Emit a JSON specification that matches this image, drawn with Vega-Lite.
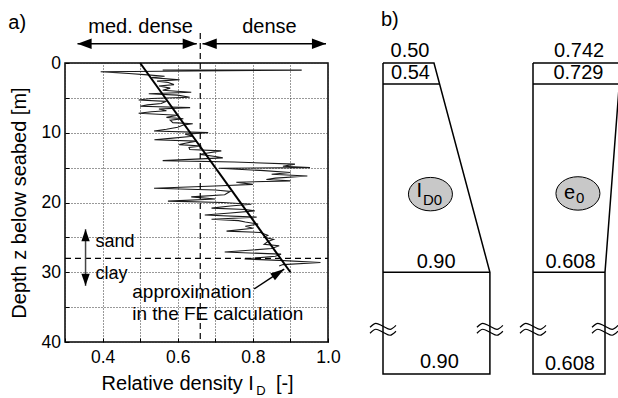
{
  "$schema": "https://vega.github.io/schema/vega-lite/v6.json",
  "padding": {"left": 7, "top": 9, "right": 0, "bottom": 0},
  "autosize": {"type": "pad"},
  "bounds": "flush",
  "spacing": 55,
  "config": {"font": "Liberation Sans", "view": {"stroke": null}},
  "hconcat": [
    {
      "width": 263,
      "height": 279,
      "view": {"stroke": "black", "strokeWidth": 1.5},
      "encoding": {
        "x": {"field": "v", "type": "quantitative",
          "scale": {"domain": [0.3, 1.0], "nice": false, "zero": false},
          "axis": {"values": [0.3, 0.4, 0.5, 0.6, 0.7, 0.8, 0.9, 1.0],
            "labelExpr": "(datum.value == 0.4 || datum.value == 0.6 || datum.value == 0.8 || datum.value == 1) ? format(datum.value, '.1f') : ''",
            "title": null, "domain": false, "tickSize": -4, "tickColor": "black", "labelColor": "black",
            "labelFontSize": 17.5, "labelPadding": 10, "labelFlush": false, "labelOverlap": false,
            "grid": true, "gridDash": [1, 2], "gridColor": "#333", "gridOpacity": 1}},
        "y": {"field": "d", "type": "quantitative",
          "scale": {"domain": [0, 40], "reverse": true, "nice": false, "zero": false},
          "axis": {"values": [0, 5, 10, 15, 20, 25, 30, 35, 40],
            "labelExpr": "datum.value % 10 == 0 ? datum.label : ''",
            "title": "Depth z below seabed [m]", "titleFontSize": 20, "titleFontWeight": "normal", "titleColor": "black", "titlePadding": 12,
            "domain": false, "tickSize": -4, "tickColor": "black", "labelColor": "black",
            "labelFontSize": 17.5, "labelPadding": 8.5, "labelFlush": false, "labelOverlap": false,
            "grid": true, "gridDash": [1, 2], "gridColor": "#333", "gridOpacity": 1}}
      },
      "layer": [
        {
          "data": {"values": [
            {"d": 1.0, "v": 0.56}, {"d": 1.02, "v": 0.93}, {"d": 1.25, "v": 0.395}, {"d": 1.5, "v": 0.47},
            {"d": 1.7, "v": 0.52}, {"d": 1.9, "v": 0.565}, {"d": 2.1, "v": 0.53}, {"d": 2.4, "v": 0.605},
            {"d": 2.6, "v": 0.545}, {"d": 2.8, "v": 0.575}, {"d": 3.1, "v": 0.59}, {"d": 3.3, "v": 0.55},
            {"d": 3.6, "v": 0.58}, {"d": 3.9, "v": 0.56}, {"d": 4.2, "v": 0.636}, {"d": 4.4, "v": 0.523},
            {"d": 4.6, "v": 0.6}, {"d": 4.9, "v": 0.632}, {"d": 5.1, "v": 0.53}, {"d": 5.3, "v": 0.496},
            {"d": 5.5, "v": 0.57}, {"d": 5.8, "v": 0.556}, {"d": 6.0, "v": 0.52}, {"d": 6.2, "v": 0.5},
            {"d": 6.4, "v": 0.633}, {"d": 6.6, "v": 0.55}, {"d": 6.85, "v": 0.57}, {"d": 7.0, "v": 0.53},
            {"d": 7.2, "v": 0.496}, {"d": 7.5, "v": 0.6}, {"d": 7.8, "v": 0.57}, {"d": 8.0, "v": 0.615},
            {"d": 8.2, "v": 0.58}, {"d": 8.55, "v": 0.587}, {"d": 8.7, "v": 0.64}, {"d": 8.9, "v": 0.615},
            {"d": 9.2, "v": 0.6}, {"d": 9.5, "v": 0.57}, {"d": 9.74, "v": 0.537}, {"d": 9.98, "v": 0.681},
            {"d": 10.2, "v": 0.62}, {"d": 10.5, "v": 0.64}, {"d": 10.8, "v": 0.58}, {"d": 11.0, "v": 0.538},
            {"d": 11.2, "v": 0.65}, {"d": 11.5, "v": 0.62}, {"d": 11.7, "v": 0.604}, {"d": 11.9, "v": 0.663},
            {"d": 12.1, "v": 0.63}, {"d": 12.4, "v": 0.632}, {"d": 12.6, "v": 0.716}, {"d": 12.9, "v": 0.68},
            {"d": 13.1, "v": 0.66}, {"d": 13.4, "v": 0.7}, {"d": 13.6, "v": 0.72}, {"d": 14.0, "v": 0.56},
            {"d": 14.2, "v": 0.75}, {"d": 14.5, "v": 0.912}, {"d": 14.8, "v": 0.88}, {"d": 15.0, "v": 0.952},
            {"d": 15.1, "v": 0.71}, {"d": 15.4, "v": 0.82}, {"d": 15.7, "v": 0.9}, {"d": 15.95, "v": 0.85},
            {"d": 16.2, "v": 0.945}, {"d": 16.5, "v": 0.86}, {"d": 16.7, "v": 0.836}, {"d": 16.9, "v": 0.9},
            {"d": 17.1, "v": 0.756}, {"d": 17.4, "v": 0.8}, {"d": 17.6, "v": 0.716}, {"d": 17.96, "v": 0.537},
            {"d": 18.2, "v": 0.7}, {"d": 18.4, "v": 0.74}, {"d": 18.9, "v": 0.725}, {"d": 19.2, "v": 0.636},
            {"d": 19.5, "v": 0.7}, {"d": 19.8, "v": 0.574}, {"d": 20.0, "v": 0.72}, {"d": 20.25, "v": 0.796},
            {"d": 20.5, "v": 0.74}, {"d": 20.8, "v": 0.69}, {"d": 21.0, "v": 0.78}, {"d": 21.2, "v": 0.805},
            {"d": 21.5, "v": 0.74}, {"d": 21.8, "v": 0.672}, {"d": 22.1, "v": 0.81}, {"d": 22.4, "v": 0.69},
            {"d": 22.6, "v": 0.762}, {"d": 22.8, "v": 0.78}, {"d": 23.1, "v": 0.814}, {"d": 23.4, "v": 0.78},
            {"d": 23.7, "v": 0.8}, {"d": 24.1, "v": 0.73}, {"d": 24.3, "v": 0.82}, {"d": 24.7, "v": 0.84},
            {"d": 25.0, "v": 0.83}, {"d": 25.3, "v": 0.855}, {"d": 25.6, "v": 0.84}, {"d": 26.0, "v": 0.83},
            {"d": 26.2, "v": 0.87}, {"d": 26.6, "v": 0.85}, {"d": 27.1, "v": 0.725}, {"d": 27.4, "v": 0.875},
            {"d": 27.7, "v": 0.86}, {"d": 28.1, "v": 0.778}, {"d": 28.3, "v": 0.87}, {"d": 28.6, "v": 0.98},
            {"d": 28.9, "v": 0.88}, {"d": 29.1, "v": 0.87}
          ]},
          "mark": {"type": "line", "color": "#1a1a1a", "strokeWidth": 1.1},
          "encoding": {"order": {"field": "d", "type": "quantitative"}}
        },
        {
          "data": {"values": [{"v": 0.5, "d": 0}, {"v": 0.9, "d": 30}]},
          "mark": {"type": "line", "color": "black", "strokeWidth": 2}
        },
        {
          "data": {"values": [{"v": 0.66, "d": -4.3, "d2": 40}]},
          "mark": {"type": "rule", "color": "black", "strokeWidth": 1.2, "strokeDash": [6, 4]},
          "encoding": {"y2": {"field": "d2"}}
        },
        {
          "data": {"values": [{"v": 0.3, "v2": 1.0, "d": 28}]},
          "mark": {"type": "rule", "color": "black", "strokeWidth": 1.2, "strokeDash": [6, 4]},
          "encoding": {"x2": {"field": "v2"}}
        },
        {
          "data": {"values": [{"v": 0.3333, "v2": 0.6507, "d": -2.77}, {"v": 0.666, "v2": 0.9947, "d": -2.77}]},
          "mark": {"type": "rule", "color": "black", "strokeWidth": 1.5},
          "encoding": {"x2": {"field": "v2"}}
        },
        {
          "data": {"values": [{"v": 0.352, "d": -2.77}, {"v": 0.685, "d": -2.77}]},
          "mark": {"type": "point", "shape": "M-1,0L1,-0.75L1,0.75Z", "size": 200, "filled": true, "color": "black", "opacity": 1}
        },
        {
          "data": {"values": [{"v": 0.632, "d": -2.77}, {"v": 0.976, "d": -2.77}]},
          "mark": {"type": "point", "shape": "M1,0L-1,-0.75L-1,0.75Z", "size": 200, "filled": true, "color": "black", "opacity": 1}
        },
        {
          "data": {"values": [{"v": 0.3547, "d": 23.83, "d2": 31.95}]},
          "mark": {"type": "rule", "color": "#444", "strokeWidth": 1.5},
          "encoding": {"y2": {"field": "d2"}}
        },
        {
          "data": {"values": [{"v": 0.3547, "d": 24.69}]},
          "mark": {"type": "point", "shape": "M0,-1L0.7,1L-0.7,1Z", "size": 144, "filled": true, "color": "black", "opacity": 1}
        },
        {
          "data": {"values": [{"v": 0.3547, "d": 31.09}]},
          "mark": {"type": "point", "shape": "M0,1L0.7,-1L-0.7,-1Z", "size": 144, "filled": true, "color": "black", "opacity": 1}
        },
        {
          "data": {"values": [{"v": 0.8035, "d": 32.39, "v2": 0.8835, "d2": 29.56}]},
          "mark": {"type": "rule", "color": "black", "strokeWidth": 1.5},
          "encoding": {"x2": {"field": "v2"}, "y2": {"field": "d2"}}
        },
        {
          "data": {"values": [{"v": 0.868, "d": 30.1}]},
          "mark": {"type": "point", "shape": "M0,-1L0.6,1L-0.6,1Z", "size": 196, "angle": 56, "filled": true, "color": "black", "opacity": 1}
        },
        {
          "data": {"values": [{"v": 0.501, "d": -5.2, "t": "med. dense"}, {"v": 0.844, "d": -5.2, "t": "dense"}]},
          "mark": {"type": "text", "fontSize": 20, "align": "center", "baseline": "middle", "color": "black"},
          "encoding": {"text": {"field": "t"}}
        },
        {
          "data": {"values": [{"v": 0.149, "d": -5.7, "t": "a)"}]},
          "mark": {"type": "text", "fontSize": 20, "align": "left", "baseline": "middle", "color": "black"},
          "encoding": {"text": {"field": "t"}}
        },
        {
          "data": {"values": [{"v": 0.381, "d": 25.7, "t": "sand"}, {"v": 0.381, "d": 30.2, "t": "clay"}]},
          "mark": {"type": "text", "fontSize": 18, "align": "left", "baseline": "middle", "color": "black"},
          "encoding": {"text": {"field": "t"}}
        },
        {
          "data": {"values": [{"v": 0.479, "d": 32.8, "t": "approximation"}, {"v": 0.479, "d": 36.0, "t": "in the FE calculation"}]},
          "mark": {"type": "text", "fontSize": 19, "align": "left", "baseline": "middle", "color": "black"},
          "encoding": {"text": {"field": "t"}}
        },
        {
          "data": {"values": [{"v": 0.8027, "d": 46.0, "t": "Relative density I"}]},
          "mark": {"type": "text", "fontSize": 20, "align": "right", "baseline": "middle", "color": "black"},
          "encoding": {"text": {"field": "t"}}
        },
        {
          "data": {"values": [{"v": 0.8093, "d": 47.0, "t": "D"}]},
          "mark": {"type": "text", "fontSize": 13, "align": "left", "baseline": "middle", "color": "black"},
          "encoding": {"text": {"field": "t"}}
        },
        {
          "data": {"values": [{"v": 0.8613, "d": 46.0, "t": "[-]"}]},
          "mark": {"type": "text", "fontSize": 20, "align": "left", "baseline": "middle", "color": "black"},
          "encoding": {"text": {"field": "t"}}
        }
      ]
    },
    {
      "width": 236,
      "height": 279,
      "view": {"stroke": null},
      "encoding": {
        "x": {"field": "u", "type": "quantitative", "scale": {"domain": [0, 10], "nice": false, "zero": false}, "axis": null},
        "y": {"field": "d", "type": "quantitative", "scale": {"domain": [0, 40], "reverse": true, "nice": false, "zero": false}, "axis": null}
      },
      "layer": [
        {
          "data": {"values": [
            {"blk": "ID", "i": 0, "u": 0, "d": 0}, {"blk": "ID", "i": 1, "u": 2.16, "d": 0},
            {"blk": "ID", "i": 2, "u": 4.53, "d": 30}, {"blk": "ID", "i": 3, "u": 4.53, "d": 44.6},
            {"blk": "ID", "i": 4, "u": 0, "d": 44.6}, {"blk": "ID", "i": 5, "u": 0, "d": 0},
            {"blk": "e", "i": 0, "u": 6.356, "d": 0}, {"blk": "e", "i": 1, "u": 10.08, "d": 0},
            {"blk": "e", "i": 2, "u": 9.407, "d": 30}, {"blk": "e", "i": 3, "u": 9.407, "d": 44.6},
            {"blk": "e", "i": 4, "u": 6.356, "d": 44.6}, {"blk": "e", "i": 5, "u": 6.356, "d": 0}
          ]},
          "mark": {"type": "line", "color": "black", "strokeWidth": 1.5, "strokeJoin": "miter"},
          "encoding": {"order": {"field": "i", "type": "quantitative"}, "detail": {"field": "blk"}}
        },
        {
          "data": {"values": [
            {"u": 0, "u2": 2.397, "d": 3}, {"u": 0, "u2": 4.53, "d": 30},
            {"u": 6.356, "u2": 10.04, "d": 3}, {"u": 6.356, "u2": 9.407, "d": 30}
          ]},
          "mark": {"type": "rule", "color": "black", "strokeWidth": 1.5},
          "encoding": {"x2": {"field": "u2"}}
        },
        {
          "data": {"values": [
            {"w": "1a", "i": 0, "u": -0.55, "d": 37.89}, {"w": "1a", "i": 1, "u": -0.3, "d": 37.32}, {"w": "1a", "i": 2, "u": 0, "d": 37.75}, {"w": "1a", "i": 3, "u": 0.3, "d": 38.18}, {"w": "1a", "i": 4, "u": 0.55, "d": 37.61},
            {"w": "1b", "i": 0, "u": -0.55, "d": 38.74}, {"w": "1b", "i": 1, "u": -0.3, "d": 38.17}, {"w": "1b", "i": 2, "u": 0, "d": 38.6}, {"w": "1b", "i": 3, "u": 0.3, "d": 39.03}, {"w": "1b", "i": 4, "u": 0.55, "d": 38.46},
            {"w": "2a", "i": 0, "u": 3.98, "d": 37.89}, {"w": "2a", "i": 1, "u": 4.23, "d": 37.32}, {"w": "2a", "i": 2, "u": 4.53, "d": 37.75}, {"w": "2a", "i": 3, "u": 4.83, "d": 38.18}, {"w": "2a", "i": 4, "u": 5.08, "d": 37.61},
            {"w": "2b", "i": 0, "u": 3.98, "d": 38.74}, {"w": "2b", "i": 1, "u": 4.23, "d": 38.17}, {"w": "2b", "i": 2, "u": 4.53, "d": 38.6}, {"w": "2b", "i": 3, "u": 4.83, "d": 39.03}, {"w": "2b", "i": 4, "u": 5.08, "d": 38.46},
            {"w": "3a", "i": 0, "u": 5.806, "d": 37.89}, {"w": "3a", "i": 1, "u": 6.056, "d": 37.32}, {"w": "3a", "i": 2, "u": 6.356, "d": 37.75}, {"w": "3a", "i": 3, "u": 6.656, "d": 38.18}, {"w": "3a", "i": 4, "u": 6.906, "d": 37.61},
            {"w": "3b", "i": 0, "u": 5.806, "d": 38.74}, {"w": "3b", "i": 1, "u": 6.056, "d": 38.17}, {"w": "3b", "i": 2, "u": 6.356, "d": 38.6}, {"w": "3b", "i": 3, "u": 6.656, "d": 39.03}, {"w": "3b", "i": 4, "u": 6.906, "d": 38.46},
            {"w": "4a", "i": 0, "u": 8.857, "d": 37.89}, {"w": "4a", "i": 1, "u": 9.107, "d": 37.32}, {"w": "4a", "i": 2, "u": 9.407, "d": 37.75}, {"w": "4a", "i": 3, "u": 9.707, "d": 38.18}, {"w": "4a", "i": 4, "u": 9.957, "d": 37.61},
            {"w": "4b", "i": 0, "u": 8.857, "d": 38.74}, {"w": "4b", "i": 1, "u": 9.107, "d": 38.17}, {"w": "4b", "i": 2, "u": 9.407, "d": 38.6}, {"w": "4b", "i": 3, "u": 9.707, "d": 39.03}, {"w": "4b", "i": 4, "u": 9.957, "d": 38.46}
          ]},
          "mark": {"type": "line", "color": "black", "strokeWidth": 1.2, "interpolate": "monotone"},
          "encoding": {"order": {"field": "i", "type": "quantitative"}, "detail": {"field": "w"}}
        },
        {
          "data": {"values": [{"u": 2.01, "d": 18.8}, {"u": 8.26, "d": 18.7}]},
          "mark": {"type": "point", "shape": "M-1,0A1,0.76,0,1,1,1,0A1,0.76,0,1,1,-1,0Z", "size": 1936, "filled": true, "fill": "#c8c8c8", "stroke": "black", "strokeWidth": 1, "opacity": 1}
        },
        {
          "data": {"values": [
            {"u": 1.144, "d": -1.72, "t": "0.50"}, {"u": 1.165, "d": 1.5, "t": "0.54"},
            {"u": 2.25, "d": 28.6, "t": "0.90"}, {"u": 2.39, "d": 42.9, "t": "0.90"},
            {"u": 8.31, "d": -1.72, "t": "0.742"}, {"u": 8.28, "d": 1.5, "t": "0.729"},
            {"u": 7.945, "d": 28.6, "t": "0.608"}, {"u": 7.92, "d": 43.1, "t": "0.608"}
          ]},
          "mark": {"type": "text", "fontSize": 20, "align": "center", "baseline": "middle", "color": "black"},
          "encoding": {"text": {"field": "t"}}
        },
        {
          "data": {"values": [{"u": -0.085, "d": -6.2, "t": "b)"}]},
          "mark": {"type": "text", "fontSize": 20, "align": "left", "baseline": "middle", "color": "black"},
          "encoding": {"text": {"field": "t"}}
        },
        {
          "data": {"values": [{"u": 1.653, "d": 18.3, "t": "I"}, {"u": 8.14, "d": 18.6, "t": "e"}]},
          "mark": {"type": "text", "fontSize": 20, "align": "right", "baseline": "middle", "color": "black"},
          "encoding": {"text": {"field": "t"}}
        },
        {
          "data": {"values": [{"u": 1.695, "d": 19.6, "t": "D0"}, {"u": 8.18, "d": 19.4, "t": "0"}]},
          "mark": {"type": "text", "fontSize": 15, "align": "left", "baseline": "middle", "color": "black"},
          "encoding": {"text": {"field": "t"}}
        }
      ]
    }
  ]
}
